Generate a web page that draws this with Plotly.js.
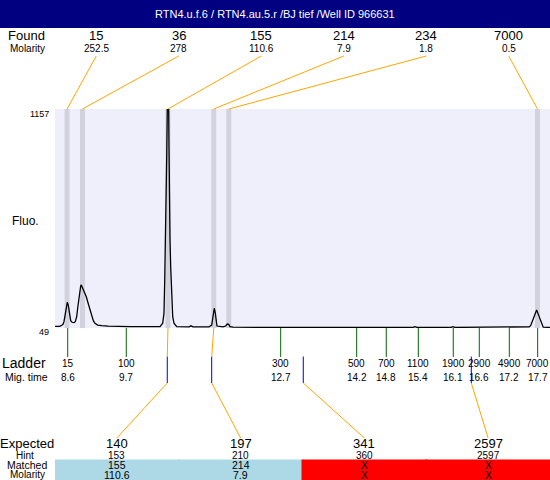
<!DOCTYPE html>
<html><head><meta charset="utf-8">
<script src="https://cdn.plot.ly/plotly-3.0.1.min.js"></script>
<style>html,body{margin:0;padding:0;background:#fff}#chart{width:550px;height:480px}</style>
</head><body><div id="chart"></div>
<script>
// ---------------- data ----------------
const titleText = "RTN4.u.f.6 / RTN4.au.5.r /BJ tief /Well ID 966631";
const fluoRange = [49, 1157];
const timeRange = [8.358, 17.942];

const curveTime = [8.358,8.45,8.488,8.513,8.532,8.552,8.571,8.596,8.615,8.629,8.643,8.662,8.687,8.726,8.751,8.778,8.797,8.817,8.836,8.856,8.867,8.887,8.914,8.939,8.964,8.991,9.016,9.041,9.069,9.100,9.132,9.185,9.262,9.390,9.810,10.391,10.443,10.468,10.482,10.501,10.513,10.521,10.532,10.559,10.565,10.571,10.585,10.598,10.617,10.637,10.662,10.714,10.953,10.991,11.030,11.340,11.392,11.411,11.431,11.442,11.462,11.475,11.494,11.611,11.663,11.694,11.721,11.746,11.805,13.0,15.289,15.327,15.366,16.024,16.063,16.101,17.495,17.540,17.567,17.598,17.631,17.664,17.683,17.708,17.747,17.780,17.811,17.941];
const curveFluo = [57,57,63,68,81,115,149,179,165,131,103,86,78,76,81,106,149,191,233,263,267,255,241,228,207,182,157,131,106,86,73,64,61,58,56,56,73,123,283,530,697,916,1157,1157,966,697,494,359,191,106,73,56,55,60,55,55,64,98,140,149,123,81,59,55,59,69,68,56,53,52,52,56,52,52,56,52,53,55,61,81,106,128,140,123,98,73,53,52];

const foundSize = [15, 36, 155, 214, 234, 7000];
const foundMolarity = [252.5, 278, 110.6, 7.9, 1.8, 0.5];
const foundTime = [8.592, 8.890, 10.545, 11.432, 11.722, 17.700];

const ladderSize = [15, 100, 300, 500, 700, 1100, 1900, 2900, 4900, 7000];
const ladderTime = [8.604, 9.738, 12.728, 14.199, 14.772, 15.392, 16.069, 16.573, 17.154, 17.703];

const expectedSize = [140, 197, 341, 2597];
const expectedHint = [153, 210, 360, 2597];
const expectedTime = [10.532, 11.392, 13.165, 16.418];
const matchedSize = [155, 214, null, null];
const matchedMolarity = [110.6, 7.9, null, null];

// ---------------- layout helpers ----------------
const W = 550, H = 480;
const X0 = 55, X1 = 550, Y0 = 109, Y1 = 328;
const FONT = "Liberation Sans, Arial, sans-serif";
const px = x => x / W, py = y => 1 - y / H;
const ORANGE = '#ffa500', BLUE = '#0000dd', GREEN = '#006400';
const ann = [], shp = [];
function text(x, y, t, size, opts) {
  ann.push(Object.assign({xref:'paper', yref:'paper', x:px(x), y:py(y), text:String(t), showarrow:false, borderpad:0,
    font:{family:FONT, size:size, color:'#000'}, xanchor:'center', yanchor:'middle'}, opts || {}));
}

// title bar
shp.push({type:'rect', xref:'paper', yref:'paper', x0:0, x1:1, y0:py(28), y1:1, fillcolor:'#000080', line:{width:0}, layer:'above'});
text(275, 14, titleText, 11, {font:{family:FONT, size:11, color:'#ffffff'}});

// found rows
text(26, 36, 'Found', 13);
text(27, 49, 'Molarity', 10);
const foundCol = i => X0 + (X1 - X0) / foundSize.length * (i + 0.5);
foundSize.forEach((s, i) => {
  text(foundCol(i), 36, s, 13);
  text(foundCol(i), 49, foundMolarity[i], 10);
  shp.push({type:'rect', xref:'x', yref:'y', x0:foundTime[i] - 0.048, x1:foundTime[i] + 0.048,
    y0:fluoRange[0], y1:fluoRange[1], fillcolor:'#d2d2de', line:{width:0}, layer:'below'});
});

// y labels
ann.push({xref:'paper', yref:'y', x:px(50), y:fluoRange[1], yshift:-5, text:String(fluoRange[1]), showarrow:false, borderpad:0,
  font:{family:FONT, size:9, color:'#000'}, xanchor:'right', yanchor:'middle'});
ann.push({xref:'paper', yref:'y', x:px(50), y:fluoRange[0], yshift:-4, text:String(fluoRange[0]), showarrow:false, borderpad:0,
  font:{family:FONT, size:9, color:'#000'}, xanchor:'right', yanchor:'middle'});
text(25, 221, 'Fluo.', 12);

// ladder
text(24, 363, 'Ladder', 14);
text(26, 377, 'Mig. time', 10.5);
ladderSize.forEach((s, i) => {
  shp.push({type:'line', xref:'x', yref:'paper', x0:ladderTime[i], x1:ladderTime[i], y0:py(Y1), y1:py(357),
    line:{color:GREEN, width:1}, layer:'above'});
  ann.push({xref:'x', yref:'paper', x:ladderTime[i], y:py(363), text:String(s), showarrow:false, borderpad:0,
    font:{family:FONT, size:10, color:'#000'}, xanchor:'center', yanchor:'middle'});
  ann.push({xref:'x', yref:'paper', x:ladderTime[i], y:py(377), text:ladderTime[i].toFixed(1), showarrow:false, borderpad:0,
    font:{family:FONT, size:10, color:'#000'}, xanchor:'center', yanchor:'middle'});
});

// expected table
text(27, 443, 'Expected', 13);
text(25, 455, 'Hint', 10);
text(27, 465, 'Matched', 10.5);
text(27, 474.5, 'Molarity', 10);
const expW = (X1 - X0) / expectedSize.length;
const expCol = i => X0 + expW * (i + 0.5);
expectedSize.forEach((s, i) => {
  const ok = matchedSize[i] !== null;
  shp.push({type:'rect', xref:'paper', yref:'paper', x0:px(X0 + expW * i - (i ? 1 : 0)), x1:px(Math.min(X1, X0 + expW * (i + 1) + 1)),
    y0:0, y1:py(459.5), fillcolor: ok ? '#add8e6' : '#ff0000', line:{width:0}, layer:'above'});
  text(expCol(i), 443, s, 13);
  text(expCol(i), 455, expectedHint[i], 10);
  text(expCol(i), 465, ok ? matchedSize[i] : 'X', 10.5);
  text(expCol(i), 474.5, ok ? matchedMolarity[i] : 'X', 10.5);
  shp.push({type:'line', xref:'x', yref:'paper', x0:expectedTime[i], x1:expectedTime[i], y0:py(356.5), y1:py(383),
    line:{color:BLUE, width:1}, layer:'above'});
});

const trace = {type:'scatter', mode:'lines', x:curveTime, y:curveFluo,
  line:{color:'#000000', width:1.3}, hoverinfo:'skip'};

const axisBase = {showgrid:false, zeroline:false, showticklabels:false, showline:false, ticks:'', fixedrange:true};
const layout = {
  width:W, height:H, margin:{l:0, r:0, t:0, b:0}, autosize:false,
  paper_bgcolor:'#ffffff', plot_bgcolor:'#efeffc', showlegend:false,
  xaxis:Object.assign({domain:[px(X0), 1], range:timeRange}, axisBase),
  yaxis:Object.assign({domain:[py(Y1), py(Y0)], range:fluoRange}, axisBase),
  shapes:shp, annotations:ann
};

const gd = document.getElementById('chart');
Plotly.newPlot(gd, [trace], layout, {staticPlot:true, displayModeBar:false}).then(() => {
  const xa = gd._fullLayout.xaxis;
  const tp = (typeof xa.l2p === 'function')
    ? t => (xa._offset + xa.l2p(t)) / W
    : t => layout.xaxis.domain[0] + (t - timeRange[0]) / (timeRange[1] - timeRange[0]) * (layout.xaxis.domain[1] - layout.xaxis.domain[0]);
  const extra = [];
  const seg = (x0, y0, x1, y1, c) => extra.push({type:'line', xref:'paper', yref:'paper', x0:x0, y0:py(y0), x1:x1, y1:py(y1),
    line:{color:c, width:1}, layer:'above'});
  foundSize.forEach((s, i) => seg(px(foundCol(i)), 56, tp(foundTime[i]), Y0, ORANGE));
  expectedSize.forEach((s, i) => {
    if (matchedSize[i] !== null) {
      const mt = foundTime[foundSize.indexOf(matchedSize[i])];
      seg(tp(mt), Y1, tp(expectedTime[i]), 357, ORANGE);
    }
    seg(tp(expectedTime[i]), 383, px(expCol(i)), 438, ORANGE);
  });
  return Plotly.relayout(gd, {shapes: shp.concat(extra)});
});
</script>
</body></html>
